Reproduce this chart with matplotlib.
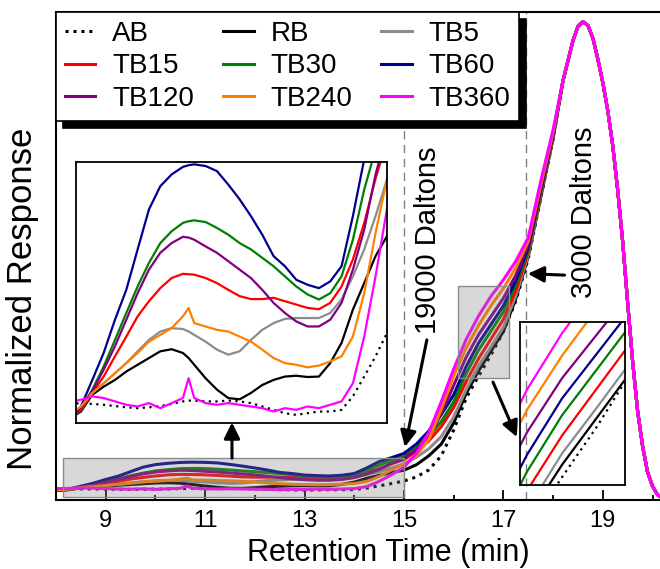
import matplotlib
matplotlib.use("Agg")
import matplotlib.pyplot as plt
import numpy as np
from matplotlib.patches import Rectangle

plt.rcParams['font.family'] = ['Liberation Sans', 'DejaVu Sans']

# series names / colours (plot order)
labels = ['AB', 'RB', 'TB5', 'TB15', 'TB30', 'TB60', 'TB120', 'TB240', 'TB360']
colors = ['k', 'k', '#8c8c8c', '#ff0000', '#008000', '#000090', '#800080', '#ff8000', '#ff00ff']

# retention time grids (min)
t_low = [8.0, 8.25, 8.5, 8.75, 9.0, 9.25, 9.5, 9.75, 10.0, 10.25, 10.5, 10.625, 10.75,
         11.0, 11.25, 11.5, 11.75, 12.0, 12.25, 12.5, 12.75, 13.0, 13.25, 13.5, 13.75,
         14.0, 14.25, 14.5, 14.75, 15.0]
t_rise = [15.25, 15.5, 15.75, 16.0, 16.25, 16.5, 16.75, 17.0, 17.25, 17.5, 17.75, 18.0]
t_peak = [18.2, 18.4, 18.5, 18.6, 18.7, 18.8, 18.9, 19.0, 19.1, 19.2, 19.3, 19.4,
          19.5, 19.6, 19.7, 19.8, 19.9, 20.0, 20.1, 20.2]

# normalized response (% of main peak), 8-15 min
ab_low = [0.45, 0.47, 0.45, 0.43, 0.40, 0.37, 0.35, 0.37, 0.40, 0.45, 0.51, 0.53, 0.53, 0.51, 0.51,
          0.53, 0.51, 0.47, 0.39, 0.31, 0.23, 0.19, 0.23, 0.27, 0.27, 0.31, 0.63, 1.10, 1.58, 2.13]
rb_low = [0.10, 0.27, 0.67, 0.86, 1.02, 1.22, 1.38, 1.54, 1.70, 1.75, 1.66, 1.54, 1.38, 1.06, 0.79,
          0.59, 0.56, 0.71, 0.90, 1.02, 1.10, 1.12, 1.09, 1.10, 1.42, 1.90, 2.69, 3.32, 3.96, 4.43]
tb5_low = [0.10, 0.31, 0.71, 0.94, 1.18, 1.42, 1.70, 1.97, 2.17, 2.25, 2.23, 2.17, 2.09, 1.93, 1.74,
           1.62, 1.70, 1.97, 2.21, 2.37, 2.47, 2.49, 2.49, 2.49, 2.61, 2.93, 3.48, 4.12, 4.91, 5.78]
tb15_low = [0.10, 0.31, 0.71, 1.10, 1.58, 2.05, 2.53, 2.89, 3.20, 3.44, 3.54, 3.53, 3.52, 3.44, 3.32,
            3.16, 3.01, 2.94, 2.94, 2.97, 2.89, 2.81, 2.73, 2.70, 2.85, 3.24, 3.88, 4.75, 5.80, 6.70]
tb30_low = [0.10, 0.35, 0.79, 1.34, 1.97, 2.61, 3.24, 3.80, 4.27, 4.55, 4.75, 4.79, 4.81, 4.77, 4.63,
            4.47, 4.27, 4.12, 3.92, 3.72, 3.48, 3.24, 3.05, 2.93, 3.08, 3.48, 4.35, 5.54, 6.50, 7.30]
tb60_low = [0.05, 0.39, 1.02, 1.66, 2.45, 3.16, 4.12, 5.07, 5.62, 5.90, 6.08, 6.12, 6.14, 6.10, 5.98,
            5.66, 5.31, 4.91, 4.47, 3.96, 3.72, 3.40, 3.28, 3.20, 3.36, 3.72, 4.91, 6.26, 7.10, 8.00]
tb120_low = [0.10, 0.35, 0.75, 1.26, 1.82, 2.45, 3.08, 3.64, 4.04, 4.27, 4.42, 4.40, 4.35, 4.19, 4.04,
             3.84, 3.64, 3.44, 3.16, 2.85, 2.61, 2.41, 2.29, 2.29, 2.45, 2.85, 3.64, 4.59, 5.90, 6.90]
tb240_low = [0.20, 0.39, 0.71, 0.94, 1.18, 1.42, 1.66, 1.93, 2.09, 2.25, 2.53, 2.73, 2.37, 2.29, 2.21,
             2.17, 2.05, 1.93, 1.74, 1.54, 1.42, 1.38, 1.32, 1.36, 1.46, 1.58, 2.05, 3.08, 4.51, 5.78]
tb360_low = [0.50, 0.55, 0.63, 0.59, 0.51, 0.43, 0.39, 0.47, 0.35, 0.47, 0.59, 1.06, 0.59, 0.47, 0.43,
             0.47, 0.43, 0.39, 0.35, 0.27, 0.35, 0.31, 0.39, 0.35, 0.43, 0.51, 0.94, 2.05, 3.48, 5.07]

# shoulder 15.25-18 min
ab_rise = [3.0, 4.5, 7.5, 13.0, 19.8, 24.5, 29.0, 34.0, 40.5, 49.5, 62.4, 75.0]
rb_rise = [5.6, 7.5, 10.0, 14.5, 20.8, 25.6, 29.8, 34.0, 41.0, 50.0, 62.6, 75.2]
tb5_rise = [7.2, 9.0, 11.6, 15.8, 21.6, 26.6, 30.7, 34.9, 41.6, 50.3, 63.0, 75.4]
tb15_rise = [8.5, 10.7, 13.7, 17.8, 23.3, 28.2, 32.4, 36.6, 42.7, 50.9, 63.4, 75.6]
tb30_rise = [9.2, 11.7, 14.8, 19.0, 25.0, 30.0, 34.1, 38.2, 43.9, 51.4, 63.8, 75.8]
tb60_rise = [10.0, 12.8, 16.3, 20.5, 26.5, 31.5, 35.5, 39.5, 44.8, 51.9, 64.2, 76.0]
tb120_rise = [8.8, 11.5, 16.5, 22.5, 28.5, 33.3, 37.2, 41.1, 46.0, 52.5, 64.6, 76.2]
tb240_rise = [7.6, 11.0, 17.5, 24.5, 30.5, 35.3, 39.5, 43.2, 47.6, 53.3, 65.2, 76.5]
tb360_rise = [8.0, 12.5, 19.0, 26.0, 32.3, 37.3, 41.5, 45.0, 49.0, 54.0, 66.0, 77.0]

# main peak (all samples overlap)
peak = [87.5, 96.0, 99.0, 100.0, 99.2, 96.5, 92.0, 87.0, 81.0, 73.5, 64.0, 53.0,
        40.0, 27.5, 17.0, 9.5, 4.0, 1.0, -0.8, -1.5]

low_sets = [ab_low, rb_low, tb5_low, tb15_low, tb30_low, tb60_low, tb120_low, tb240_low, tb360_low]
rise_sets = [ab_rise, rb_rise, tb5_rise, tb15_rise, tb30_rise, tb60_rise, tb120_rise, tb240_rise, tb360_rise]

time = np.array(t_low + t_rise + t_peak)

fig = plt.figure(figsize=(6.6, 5.69), dpi=100)
ax = fig.add_axes([56/660, 69/569, 606/660, 488/569])
ins1 = ax.inset_axes([0.033, 0.158, 0.513, 0.535])
ins2 = ax.inset_axes([0.766, 0.031, 0.173, 0.334])
ins2.set_facecolor('none')

handles = {}
for lab, col, lo, ri in zip(labels, colors, low_sets, rise_sets):
    y = np.array(lo + ri + peak)
    ls = (0, (1, 1.6)) if lab == 'AB' else '-'
    ln, = ax.plot(time, y, color=col, lw=2.2, ls=ls, zorder=2)
    handles[lab] = ln
    for a in (ins1, ins2):
        a.plot(time, y, color=col, lw=1.6, ls=(0, (1, 2)) if lab == 'AB' else '-')

ax.set_xlim(8.0, 20.19)
ax.set_ylim(-1.92, 102.07)
ax.set_xticks([9, 11, 13, 15, 17, 19])
ax.set_xticks([10, 12, 14, 16, 18, 20], minor=True)
ax.set_yticks([])
ax.tick_params(axis='x', which='major', direction='in', length=7, width=1.3, labelsize=17, pad=7.5)
ax.tick_params(axis='x', which='minor', direction='in', length=3.5, width=1.3)
for s in ax.spines.values():
    s.set_linewidth(1.5)

ins1.set_xlim(8.14, 15.0)
ins1.set_ylim(0.0, 6.2)
ins2.set_xlim(16.2, 16.95)
ins2.set_ylim(23.8, 38.3)
for a in (ins1, ins2):
    a.set_xticks([])
    a.set_yticks([])
    for s in a.spines.values():
        s.set_linewidth(1.3)

# molecular weight markers
for xv in (15.0, 17.45):
    ax.axvline(xv, color='#808080', lw=1.0, dashes=(6, 4), zorder=1)

# zoomed regions
ax.add_patch(Rectangle((8.14, -1.3), 15.0 - 8.14, 8.3, facecolor=(0.5, 0.5, 0.5, 0.3),
                       edgecolor='#8c8c8c', lw=1.0, zorder=3))
ax.add_patch(Rectangle((16.08, 24.1), 17.12 - 16.08, 19.6, facecolor=(0.5, 0.5, 0.5, 0.3),
                       edgecolor='#8c8c8c', lw=1.0, zorder=3))

arr = dict(arrowstyle='-|>', color='k', lw=2.2, mutation_scale=24, shrinkA=0, shrinkB=0)
ax.annotate('', xy=(11.54, 14.6), xytext=(11.54, 7.0), arrowprops=arr, zorder=6)
ax.annotate('', xy=(15.02, 9.4), xytext=(15.46, 32.2), arrowprops=arr, zorder=6)
ax.annotate('', xy=(17.27, 11.5), xytext=(16.79, 23.2), arrowprops=arr, zorder=6)
ax.annotate('', xy=(17.49, 46.3), xytext=(18.23, 46.0), arrowprops=arr, zorder=6)

ax.text(15.49, 53.5, '19000 Daltons', rotation=90, ha='center', va='center', fontsize=21)
ax.text(18.63, 59.4, '3000 Daltons', rotation=90, ha='center', va='center', fontsize=21)

order = ['AB', 'TB15', 'TB120', 'RB', 'TB30', 'TB240', 'TB5', 'TB60', 'TB360']
leg = ax.legend([handles[k] for k in order], order, ncol=3, loc='upper left',
                bbox_to_anchor=(0, 1), borderaxespad=0, fontsize=20, handlelength=1.1,
                handletextpad=0.6, columnspacing=1.05, labelspacing=0.23, borderpad=0.32,
                fancybox=False, framealpha=1, edgecolor='k',
                shadow={'ox': 5, 'oy': -5, 'facecolor': 'k', 'edgecolor': 'k', 'alpha': 1})
leg.get_frame().set_linewidth(1.2)

fig.text(23/660, 1 - 299/569, 'Normalized Response', rotation=90, ha='center', va='center',
         fontsize=25)
fig.text(388/660, (569 - 561)/569, 'Retention Time (min)', ha='center', va='baseline',
         fontsize=22)

fig.savefig('out.png', dpi=100)
